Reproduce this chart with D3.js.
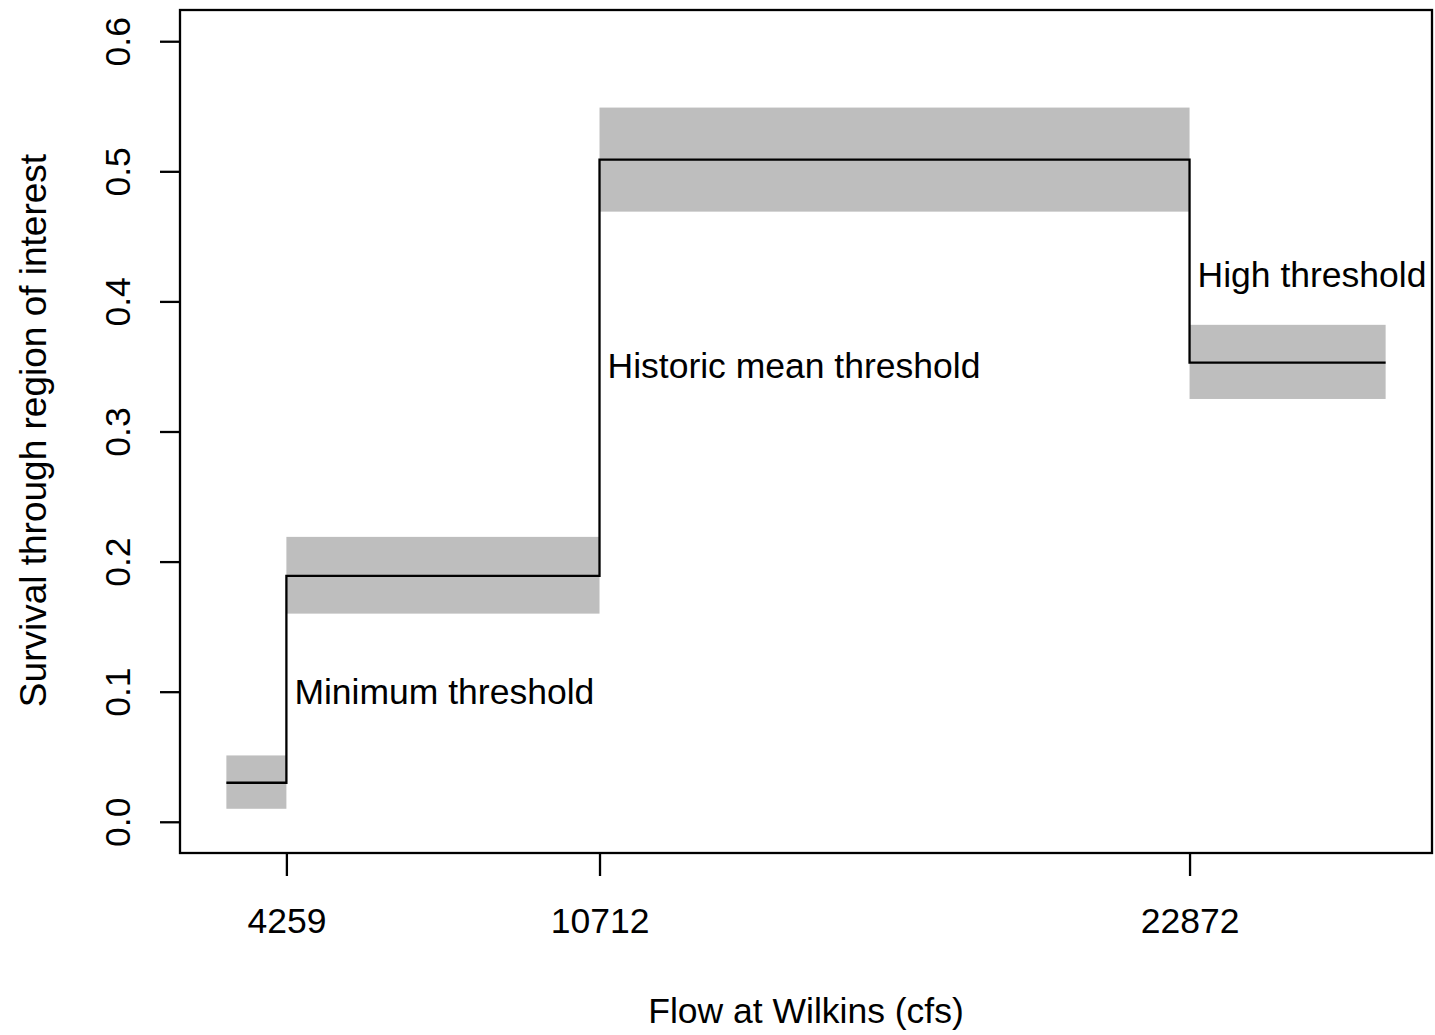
<title>Survival by flow</title>
<body style="margin:0;background:#fff"></body>
<script src="https://d3js.org/d3.v7.min.js"></script>
<script>
// flow breakpoints (cfs) and survival estimates per flow bin
const breaks = [3022, 4259, 10712, 22872, 26913]
const est   = [0.030, 0.189, 0.509, 0.353]
const lower = [0.010, 0.160, 0.469, 0.325]
const upper = [0.051, 0.219, 0.549, 0.382]
const xTicks = [4259, 10712, 22872]
const yTicks = [0, 0.1, 0.2, 0.3, 0.4, 0.5, 0.6]
const labels = [
  {x: 4259, y: 0.10, text: 'Minimum threshold'},
  {x: 10712, y: 0.35, text: 'Historic mean threshold'},
  {x: 22872, y: 0.42, text: 'High threshold'}
]

const W = 1435, H = 1035
const box = {l: 180, r: 1432, t: 10, b: 853}
const font = '"Liberation Sans", Arial, sans-serif'
const fs = 35.5

svg = d3.select('body').append('svg')
    .attr('width', W).attr('height', H)
    .style('font-family', font)

// R style 4% padding on the axis ranges
xpad = (breaks[4] - breaks[0]) * 0.04
x = d3.scaleLinear().domain([breaks[0] - xpad, breaks[4] + xpad]).range([box.l, box.r])
y = d3.scaleLinear().domain([-0.024, 0.624]).range([box.b, box.t])

bins = est.map((e, i) => ({x0: breaks[i], x1: breaks[i + 1], e: e, lo: lower[i], hi: upper[i]}))

svg.append('g').selectAll('rect').data(bins).join('rect')
    .attr('x', d => x(d.x0)).attr('width', d => x(d.x1) - x(d.x0))
    .attr('y', d => y(d.hi)).attr('height', d => y(d.lo) - y(d.hi))
    .attr('fill', '#bebebe')

step = d3.line().x(d => x(d[0])).y(d => y(d[1])).curve(d3.curveStepAfter)
pts = bins.map(d => [d.x0, d.e]).concat([[breaks[4], est[3]]])
svg.append('path').datum(pts)
    .attr('d', step).attr('fill', 'none').attr('stroke', '#000').attr('stroke-width', 2.3)

svg.append('rect')
    .attr('x', box.l).attr('y', box.t)
    .attr('width', box.r - box.l).attr('height', box.b - box.t)
    .attr('fill', 'none').attr('stroke', '#000').attr('stroke-width', 2.3)

// axes
xaxis = d3.axisBottom(x).tickValues(xTicks).tickSize(23).tickSizeOuter(0).tickPadding(32).tickFormat(d3.format('d'))
gx = svg.append('g').attr('transform', `translate(0,${box.b})`).call(xaxis)
gx.select('.domain').remove()
gx.selectAll('line').attr('stroke-width', 2.3)
gx.selectAll('text').attr('font-size', fs).attr('font-family', font).attr('fill', '#000')

yaxis = d3.axisLeft(y).tickValues(yTicks).tickSize(20).tickSizeOuter(0).tickFormat(d3.format('.1f'))
gy = svg.append('g').attr('transform', `translate(${box.l},0)`).call(yaxis)
gy.select('.domain').remove()
gy.selectAll('line').attr('stroke-width', 2.3)
gy.selectAll('text')
    .attr('font-size', fs).attr('font-family', font).attr('fill', '#000')
    .attr('x', null).attr('dy', null)
    .attr('text-anchor', 'middle').attr('dominant-baseline', 'central')
    .attr('transform', 'translate(-62,0) rotate(-90)')

svg.append('g').selectAll('text').data(labels).join('text')
    .attr('x', d => x(d.x) + 8).attr('y', d => y(d.y))
    .attr('dominant-baseline', 'central')
    .attr('font-size', fs).text(d => d.text)

svg.append('text')
    .attr('x', (box.l + box.r) / 2).attr('y', 1011)
    .attr('text-anchor', 'middle').attr('dominant-baseline', 'central')
    .attr('font-size', fs).text('Flow at Wilkins (cfs)')

svg.append('text')
    .attr('transform', `translate(33,${(box.t + box.b) / 2 - 1}) rotate(-90)`)
    .attr('text-anchor', 'middle').attr('dominant-baseline', 'central')
    .attr('font-size', 37).text('Survival through region of interest')
</script>
